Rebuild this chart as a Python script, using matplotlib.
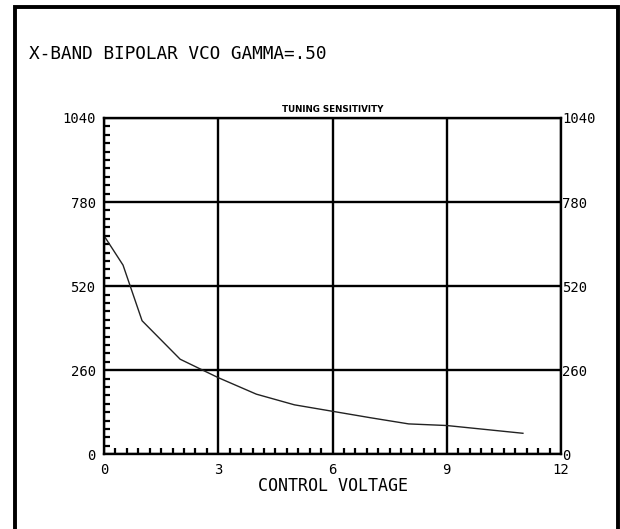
import matplotlib
matplotlib.use("Agg")
import matplotlib.pyplot as plt
from matplotlib.lines import Line2D
from matplotlib.ticker import MultipleLocator

# tuning sensitivity vs control voltage
volts = [0, 0.5, 1, 2, 3, 4, 5, 6, 7, 8, 9, 10, 11]
sens = [676, 585, 413, 294, 237, 186, 153, 133, 113, 94, 89, 77, 65]

xticks = [0, 3, 6, 9, 12]
yticks = [0, 260, 520, 780, 1040]

W, H = 620, 529
fig = plt.figure(figsize=(W / 100, H / 100), dpi=100)
mono = "DejaVu Sans Mono"

def fx(p):
    return p / W
def fy(p):
    return 1 - p / H

# outer frame: left, top and right sides only
fig.add_artist(Line2D([fx(14.5), fx(14.5), fx(617.5), fx(617.5)],
                      [fy(H + 5), fy(6.5), fy(6.5), fy(H + 5)],
                      transform=fig.transFigure, color="black", lw=2.8,
                      solid_joinstyle="miter"))

fig.text(fx(29), fy(54), "X-BAND BIPOLAR VCO GAMMA=.50", family=mono,
         fontsize=12.8, va="center", ha="left")

ax = fig.add_axes([fx(104), fy(454.3), (561 - 104) / W, (454.3 - 118) / H])
ax.plot(volts, sens, color="#222222", lw=1.0)

ax.set_xlim(0, 12)
ax.set_ylim(0, 1040)
ax.set_xticks(xticks)
ax.set_yticks(yticks)
ax.xaxis.set_minor_locator(MultipleLocator(0.3))
ax.yaxis.set_minor_locator(MultipleLocator(26))
ax.grid(True, which="major", color="black", lw=1.7)
for s in ax.spines.values():
    s.set_linewidth(1.7)

ax.tick_params(which="major", length=0, labelsize=10, pad=6)
ax.tick_params(axis="y", which="minor", direction="in", length=4, width=1.6,
               left=True, right=False)
ax.tick_params(axis="x", which="minor", direction="in", length=4, width=1.6,
               bottom=True, top=False)
for lab in ax.get_xticklabels() + ax.get_yticklabels():
    lab.set_family(mono)

# right-hand labels sit tight against the frame
axr = ax.twinx()
axr.set_ylim(0, 1040)
axr.set_yticks(yticks)
axr.tick_params(length=0, labelsize=10, pad=1)
for s in axr.spines.values():
    s.set_visible(False)
for lab in axr.get_yticklabels():
    lab.set_family(mono)

ax.set_title("TUNING SENSITIVITY", fontsize=6.3, fontweight="bold", pad=4)
ax.set_xlabel("CONTROL VOLTAGE", family=mono, fontsize=12, labelpad=0)

fig.savefig("out.png", dpi=100)
